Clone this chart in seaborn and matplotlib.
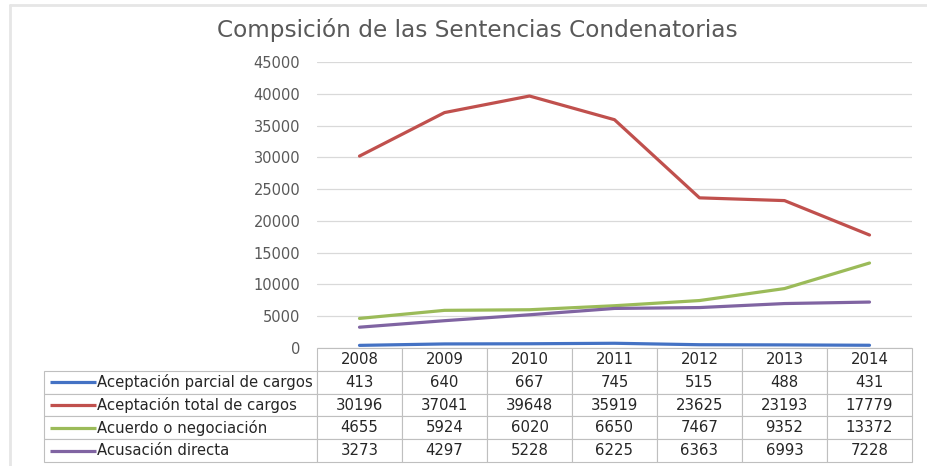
import matplotlib
matplotlib.use('Agg')
import matplotlib.pyplot as plt
import seaborn as sns
import numpy as np
import pandas as pd

# datos
anios = ['2008', '2009', '2010', '2011', '2012', '2013', '2014']
parcial = [413, 640, 667, 745, 515, 488, 431]
total = [30196, 37041, 39648, 35919, 23625, 23193, 17779]
acuerdo = [4655, 5924, 6020, 6650, 7467, 9352, 13372]
directa = [3273, 4297, 5228, 6225, 6363, 6993, 7228]
series = ['Aceptación parcial de cargos', 'Aceptación total de cargos',
          'Acuerdo o negociación', 'Acusación directa']
colores = ['#4472C4', '#C0504D', '#9BBB59', '#8064A2']

df = pd.DataFrame({'x': list(range(len(anios))) * 4,
                   'valor': parcial + total + acuerdo + directa,
                   'serie': np.repeat(series, len(anios))})

sns.set_style('white')
plt.rcParams['font.family'] = ['DejaVu Sans']

W, H = 928, 466
fig = plt.figure(figsize=(W / 100, H / 100), dpi=100)

# marco gris del recuadro del grafico
fig.add_artist(plt.Line2D([10 / W, 1], [1 - 5 / H, 1 - 5 / H], color='#e6e6e6',
                          linewidth=2, transform=fig.transFigure))
fig.add_artist(plt.Line2D([10 / W, 10 / W], [0, 1 - 5 / H], color='#e6e6e6',
                          linewidth=2, transform=fig.transFigure))

#%% grafico de lineas
ax = fig.add_axes([317 / W, (H - 348) / H, 595 / W, 286 / H])
sns.lineplot(data=df, x='x', y='valor', hue='serie', hue_order=series,
             palette=colores, linewidth=2.3, legend=False, ax=ax)
ax.set_xlim(-0.5, len(anios) - 0.5)
ax.set_ylim(0, 45000)
ax.set_yticks(range(0, 45001, 5000))
ax.set_xticks([])
ax.set_xlabel('')
ax.set_ylabel('')
ax.grid(axis='y', color='#d9d9d9', linewidth=0.9)
ax.set_axisbelow(True)
for s in ax.spines.values():
    s.set_visible(False)
ax.tick_params(axis='y', length=0, pad=12, labelsize=10.5, labelcolor='#595959')

fig.text(477 / W, 1 - 30 / H, 'Compsición de las Sentencias Condenatorias',
         ha='center', va='center', fontsize=16.7, color='#595959')

#%% tabla de datos
tab = fig.add_axes([44 / W, (H - 462) / H, (912 - 44) / W, (462 - 348) / H])
tab.axis('off')
filas = [[''] + anios]
for nombre, vals in zip(series, [parcial, total, acuerdo, directa]):
    filas.append([''] + [str(v) for v in vals])
anchos = [273 / 868] + [85 / 868] * len(anios)
t = tab.table(cellText=filas, cellLoc='center', colWidths=anchos, bbox=[0, 0, 1, 1])
t.auto_set_font_size(False)
for (r, c), cell in t.get_celld().items():
    cell.set_edgecolor('#bfbfbf')
    cell.set_linewidth(0.8)
    cell.get_text().set_fontsize(10.7)
    cell.get_text().set_color('#262626')
t[0, 0].visible_edges = ''

n = len(series) + 1
for i, (nombre, col) in enumerate(zip(series, colores)):
    yc = 1 - (i + 1.5) / n
    tab.plot([6 / 868, 52 / 868], [yc, yc], color=col, linewidth=2.3,
             transform=tab.transAxes, solid_capstyle='butt')
    tab.text(53 / 868, yc, nombre, transform=tab.transAxes, ha='left',
             va='center', fontsize=10.7, color='#262626')

fig.savefig('out.png', dpi=100)
